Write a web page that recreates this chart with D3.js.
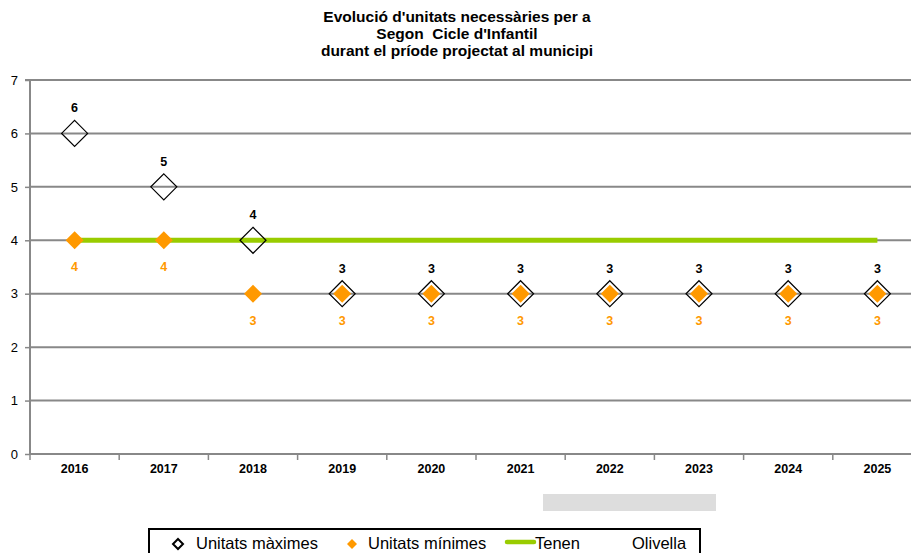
<!DOCTYPE html>
<html><head><meta charset="utf-8">
<script src="https://cdn.jsdelivr.net/npm/d3@7"></script>
<style>html,body{margin:0;padding:0;background:#fff;}svg{display:block;font-family:"Liberation Sans",Arial,sans-serif;}</style>
</head><body>
<svg id="c" width="911" height="553"></svg>
<script>
const titleLines = ["Evolució d'unitats necessàries per a", "Segon  Cicle d'Infantil", "durant el príode projectat al municipi"];
const years = ["2016","2017","2018","2019","2020","2021","2022","2023","2024","2025"];
const maxUnits = [6,5,4,3,3,3,3,3,3,3];
const minUnits = [4,4,3,3,3,3,3,3,3,3];
const tenen = [4,4,4,4,4,4,4,4,4,4];
const yTicks = [0,1,2,3,4,5,6,7];
const legendLabels = ["Unitats màximes","Unitats mínimes","Tenen","Olivella"];

(function(){
const svg = d3.select("#c");
const pL = 30, pR = 922, pT = 80, pB = 454;
const x = d3.scaleBand().domain(years).range([pL, pR]);
const y = d3.scaleLinear().domain([0,7]).range([pB, pT]);
const cx = d => x(d) + x.bandwidth()/2;

// title
svg.append("g").selectAll("text").data(titleLines).join("text")
  .attr("x", 457).attr("y", (d,i)=>22 + i*17)
  .attr("text-anchor","middle").attr("font-size",15.5).attr("font-weight","bold")
  .style("white-space","pre")
  .attr("fill","#000").text(d=>d);

// gridlines
svg.append("g").selectAll("line").data(yTicks).join("line")
  .attr("x1", pL).attr("x2", 911).attr("y1", d=>y(d)).attr("y2", d=>y(d))
  .attr("stroke","#888").attr("stroke-width",2);

// y axis
const ya = svg.append("g").attr("transform",`translate(${pL},0)`)
  .call(d3.axisLeft(y).tickValues(yTicks).tickSize(5).tickPadding(7).tickFormat(d3.format("d")));
ya.select(".domain").attr("stroke","#888").attr("stroke-width",2).attr("d",`M-5,${pT}H0V${pB}`);
ya.selectAll(".tick line").attr("stroke","#888").attr("stroke-width",1.5);
ya.selectAll("text").attr("font-size",13).attr("fill","#000").attr("font-family","Liberation Sans, Arial, sans-serif");

// x axis
const xa = svg.append("g").attr("transform",`translate(0,${pB})`)
  .call(d3.axisBottom(x).tickSize(0).tickPadding(10));
xa.select(".domain").remove();
xa.selectAll("text").attr("font-size",12.5).attr("font-weight","bold").attr("fill","#000").attr("font-family","Liberation Sans, Arial, sans-serif");
// category separators
svg.append("g").selectAll("line").data(years).join("line")
  .attr("x1", d=>x(d)).attr("x2", d=>x(d)).attr("y1", pB).attr("y2", pB+6)
  .attr("stroke","#888").attr("stroke-width",1.5);

// Tenen line
svg.append("path").datum(tenen.map((v,i)=>[years[i],v]))
  .attr("d", d3.line().x(d=>cx(d[0])).y(d=>y(d[1])))
  .attr("fill","none").attr("stroke","#99cc00").attr("stroke-width",5);

const diamond = r => `M0,${-r}L${r},0L0,${r}L${-r},0Z`;

// min markers (orange)
svg.append("g").selectAll("path").data(minUnits).join("path")
  .attr("transform",(d,i)=>`translate(${cx(years[i])},${y(d)})`)
  .attr("d", diamond(9)).attr("fill","#ff9900");

// max markers (hollow)
svg.append("g").selectAll("path").data(maxUnits).join("path")
  .attr("transform",(d,i)=>`translate(${cx(years[i])},${y(d)})`)
  .attr("d", diamond(13)).attr("fill","none").attr("stroke","#000").attr("stroke-width",1.2);

// labels
svg.append("g").selectAll("text").data(maxUnits).join("text")
  .attr("x",(d,i)=>cx(years[i])).attr("y", d=>y(d)-21)
  .attr("text-anchor","middle").attr("font-size",12.5).attr("font-weight","bold").attr("fill","#000").text(d=>d);
svg.append("g").selectAll("text").data(minUnits).join("text")
  .attr("x",(d,i)=>cx(years[i])).attr("y", d=>y(d)+31)
  .attr("text-anchor","middle").attr("font-size",12.5).attr("font-weight","bold").attr("fill","#ff9900").text(d=>d);

// gray box
svg.append("rect").attr("x",543).attr("y",494).attr("width",173).attr("height",17).attr("fill","#dddddd");

// legend
const lg = svg.append("g");
lg.append("rect").attr("x",149).attr("y",529).attr("width",551).attr("height",30)
  .attr("fill","#fff").attr("stroke","#000").attr("stroke-width",2);
lg.append("path").attr("transform","translate(178,544)").attr("d",diamond(5)).attr("fill","none").attr("stroke","#000").attr("stroke-width",2);
lg.append("path").attr("transform","translate(352,544)").attr("d",diamond(5)).attr("fill","#ff9900");
lg.append("line").attr("x1",507).attr("x2",534).attr("y1",542).attr("y2",542).attr("stroke","#99cc00").attr("stroke-width",4.5).attr("stroke-linecap","round");
const lx = [196,368,535,632];
lg.selectAll("text.l").data(legendLabels).join("text").attr("class","l")
  .attr("x",(d,i)=>lx[i]).attr("y",549).attr("font-size",16.5).attr("fill","#000").text(d=>d);
})();
</script>
</body></html>
